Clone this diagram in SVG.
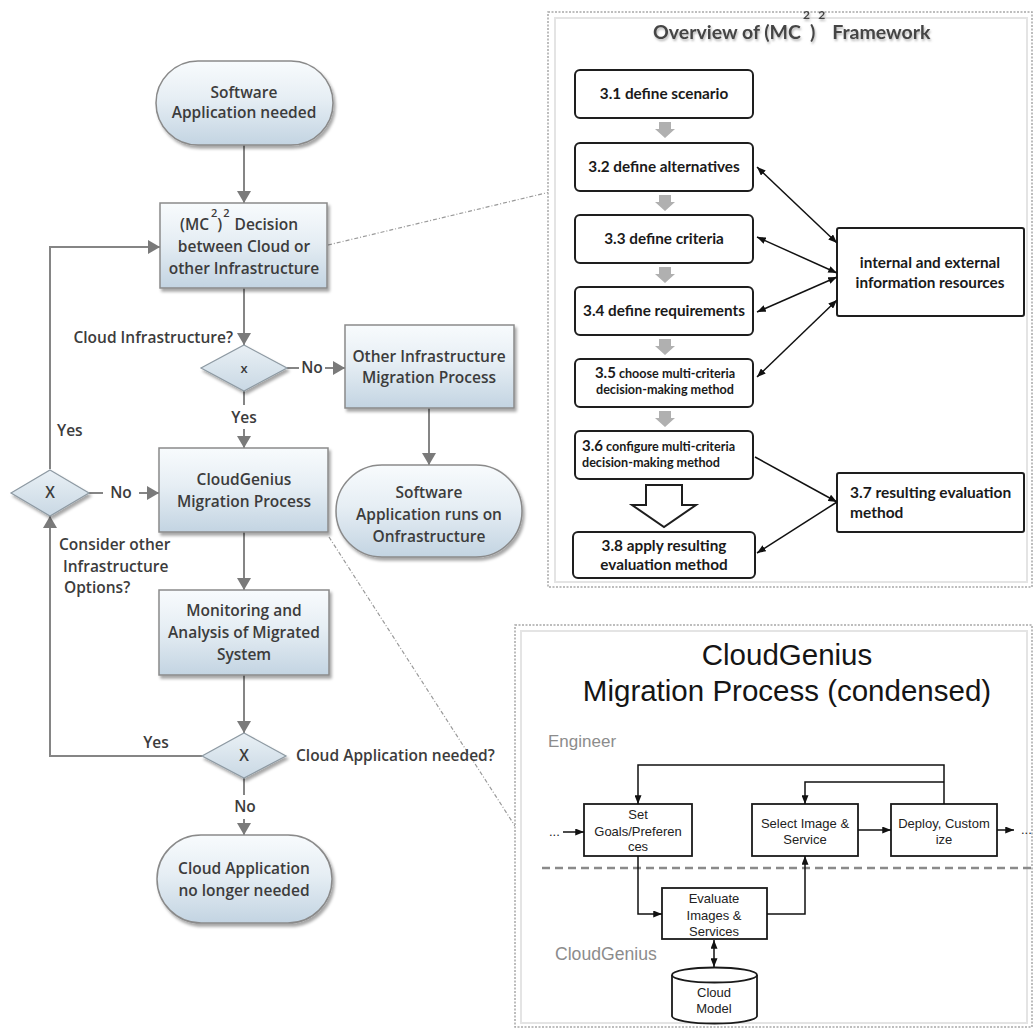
<svg xmlns="http://www.w3.org/2000/svg" width="1035" height="1028" viewBox="0 0 1035 1028">
  <defs>
    <linearGradient id="nodeFill" x1="0" y1="0" x2="0" y2="1">
      <stop offset="0" stop-color="#f8fbfd"/>
      <stop offset="0.45" stop-color="#e6eef4"/>
      <stop offset="1" stop-color="#c3d4e2"/>
    </linearGradient>
    <linearGradient id="diamondFill" x1="0" y1="0" x2="0" y2="1">
      <stop offset="0" stop-color="#e9f0f5"/>
      <stop offset="1" stop-color="#c9d8e4"/>
    </linearGradient>
    <filter id="shadow" x="-10%" y="-10%" width="125%" height="130%">
      <feDropShadow dx="2" dy="3" stdDeviation="1.6" flood-color="#000" flood-opacity="0.35"/>
    </filter>
    <filter id="textShadow" x="-5%" y="-30%" width="110%" height="170%">
      <feDropShadow dx="1" dy="2" stdDeviation="1.2" flood-color="#888" flood-opacity="0.6"/>
    </filter>
    <marker id="gArrow" viewBox="0 0 12 14" refX="12" refY="7" markerWidth="12" markerHeight="14" markerUnits="userSpaceOnUse" orient="auto">
      <path d="M0,0 L12,7 L0,14 Z" fill="#7a7a7a"/>
    </marker>
    <marker id="bArrow" viewBox="0 0 10 8" refX="10" refY="4" markerWidth="9" markerHeight="7" markerUnits="userSpaceOnUse" orient="auto-start-reverse">
      <path d="M0,0 L10,4 L0,8 Z" fill="#111"/>
    </marker>
    <path id="stepArrow" d="M-6,0 H6 V7 H10 L0,16 L-10,7 H-6 Z" fill="#b0b0b0"/>
    <style>
      .node { fill: url(#nodeFill); stroke: #8a8a8a; stroke-width: 1.5; filter: url(#shadow); }
      .dia { fill: url(#diamondFill); stroke: #8e9aa3; stroke-width: 1.2; filter: url(#shadow); }
      .flow { fill: none; stroke: #858585; stroke-width: 2; }
      .flowA { fill: none; stroke: #858585; stroke-width: 2; marker-end: url(#gArrow); }
      .lt { font-family: "Open Sans", "DejaVu Sans", sans-serif; font-weight: 600; font-size: 15.5px; fill: #3c3c3c; }
      .ltc { text-anchor: middle; }
      .sup { font-size: 11px; }
      .zoom { fill: none; stroke: #9a9a9a; stroke-width: 1.2; stroke-dasharray: 4 2 1 2; }
      .panel { fill: #fff; stroke: #a8a8a8; stroke-width: 1.5; stroke-dasharray: 2 1.5; }
      .panelIn { fill: none; stroke: #e4e4e4; stroke-width: 2; }
      .step { fill: #fff; stroke: #1e1e1e; stroke-width: 2; }
      .rt { font-family: Lato, "Open Sans", sans-serif; font-weight: 700; font-size: 15.3px; fill: #1a1a1a; }
      .rts { font-size: 12.6px; }
      .rc { text-anchor: middle; }
      .bl { fill: none; stroke: #111; stroke-width: 1.5; }
      .blA { fill: none; stroke: #111; stroke-width: 1.5; marker-end: url(#bArrow); }
      .blAA { fill: none; stroke: #111; stroke-width: 1.5; marker-end: url(#bArrow); marker-start: url(#bArrow); }
      .cg { fill: #fff; stroke: #1a1a1a; stroke-width: 1.8; }
      .ct { font-family: "Liberation Sans", Arial, sans-serif; font-size: 13px; fill: #222; text-anchor: middle; }
      .lane { font-family: "Liberation Sans", Arial, sans-serif; fill: #8c8c8c; }
    </style>
  </defs>

  <rect width="1035" height="1028" fill="#fff"/>

  <!-- magnification guides from the left flow to the detail panels -->
  <g id="guides">
    <path class="zoom" d="M328,245 L550,192"/>
    <path class="zoom" d="M329,537 L515,826"/>
  </g>

  <!-- ===== Detail panel: framework overview ===== -->
  <g id="overview-panel">
    <rect class="panel" x="548" y="12" width="484" height="575"/>
    <rect class="panelIn" x="555" y="18" width="472" height="564"/>
    <text class="rt" x="653" y="39" filter="url(#textShadow)" style="font-size:19.5px;fill:#454545">Overview of (MC<tspan dx="2" dy="-20" style="font-size:12px">2</tspan><tspan dy="20">)</tspan><tspan dx="3" dy="-20" style="font-size:12px">2</tspan><tspan dx="7" dy="20">Framework</tspan></text>
  </g>

  <g id="step-3-1"><rect class="step" x="575" y="70" width="178" height="48" rx="5"/><text class="rt rc" x="664" y="99">3.1 define scenario</text></g>
  <g id="step-3-2"><rect class="step" x="575" y="143" width="178" height="48" rx="5"/><text class="rt rc" x="664" y="172">3.2 define alternatives</text></g>
  <g id="step-3-3"><rect class="step" x="575" y="215" width="178" height="48" rx="5"/><text class="rt rc" x="664" y="244">3.3 define criteria</text></g>
  <g id="step-3-4"><rect class="step" x="575" y="287" width="178" height="48" rx="5"/><text class="rt rc" x="664" y="316">3.4 define requirements</text></g>
  <g id="step-3-5"><rect class="step" x="575" y="359" width="178" height="48" rx="5"/>
    <text class="rt rc rts" x="665" y="378"><tspan style="font-size:15px">3.5</tspan> choose multi-criteria</text>
    <text class="rt rc rts" x="665" y="394">decision-making method</text></g>
  <g id="step-3-6"><rect class="step" x="575" y="431" width="178" height="48" rx="5"/>
    <text class="rt rts" x="582" y="451"><tspan style="font-size:15px">3.6</tspan> configure multi-criteria</text>
    <text class="rt rts" x="582" y="467">decision-making method</text></g>
  <g id="step-3-8"><rect class="step" x="573" y="532" width="182" height="46" rx="5"/>
    <text class="rt rc" x="664" y="551">3.8 apply resulting</text>
    <text class="rt rc" x="664" y="570">evaluation method</text></g>
  <g id="info-resources"><rect class="step" x="837" y="228" width="187" height="88" rx="2"/>
    <text class="rt rc" x="930" y="268">internal and external</text>
    <text class="rt rc" x="930" y="288">information resources</text></g>
  <g id="step-3-7"><rect class="step" x="837" y="473" width="187" height="59" rx="2"/>
    <text class="rt" x="850" y="498" style="font-size:15.5px">3.7 resulting evaluation</text>
    <text class="rt" x="850" y="518" style="font-size:15.5px">method</text></g>

  <g id="overview-connectors">
    <use href="#stepArrow" x="665" y="122"/>
    <use href="#stepArrow" x="665" y="195"/>
    <use href="#stepArrow" x="665" y="267"/>
    <use href="#stepArrow" x="665" y="339"/>
    <use href="#stepArrow" x="665" y="411"/>
    <path d="M646,485 H682 V505 H696 L664,527 L632,505 H646 Z" fill="#fff" stroke="#1e1e1e" stroke-width="2"/>
    <path class="blAA" d="M757,167 L837,243"/>
    <path class="blAA" d="M757,237 L837,273"/>
    <path class="blAA" d="M757,312 L837,277"/>
    <path class="blAA" d="M757,377 L837,300"/>
    <path class="blA" d="M755,457 L837,502"/>
    <path class="blA" d="M837,502 L757,553"/>
  </g>

  <!-- ===== Detail panel: condensed migration process ===== -->
  <g id="process-panel">
    <rect class="panel" x="515" y="625" width="517" height="402"/>
    <rect class="panelIn" x="521" y="631" width="506" height="392"/>
    <text x="787" y="665" text-anchor="middle" font-family="'Liberation Sans', Arial, sans-serif" font-size="29.5" fill="#151515">CloudGenius</text>
    <text x="787" y="701" text-anchor="middle" font-family="'Liberation Sans', Arial, sans-serif" font-size="29.5" fill="#151515">Migration Process (condensed)</text>
    <text class="lane" x="548" y="747" font-size="17">Engineer</text>
    <text class="lane" x="555" y="960" font-size="17.6">CloudGenius</text>
    <line x1="542" y1="868" x2="1032" y2="868" stroke="#8a8a8a" stroke-width="2.5" stroke-dasharray="8 5"/>
  </g>

  <g id="set-goals"><rect class="cg" x="584" y="804" width="108" height="52"/>
    <text class="ct" x="638" y="819">Set</text><text class="ct" x="638" y="836">Goals/Preferen</text><text class="ct" x="638" y="851">ces</text></g>
  <g id="select-image"><rect class="cg" x="752" y="804" width="106" height="52"/>
    <text class="ct" x="805" y="828">Select Image &amp;</text><text class="ct" x="805" y="844">Service</text></g>
  <g id="deploy"><rect class="cg" x="891" y="804" width="106" height="52"/>
    <text class="ct" x="944" y="828">Deploy, Custom</text><text class="ct" x="944" y="844">ize</text></g>
  <g id="evaluate"><rect class="cg" x="662" y="888" width="105" height="51"/>
    <text class="ct" x="714" y="903">Evaluate</text><text class="ct" x="714" y="920">Images &amp;</text><text class="ct" x="714" y="936">Services</text></g>
  <g id="cloud-model">
    <path class="cg" d="M672,975 V1016 A42.5,7.5 0 0 0 757,1016 V975"/>
    <ellipse class="cg" cx="714.5" cy="975" rx="42.5" ry="7.5"/>
    <text class="ct" x="714" y="997">Cloud</text><text class="ct" x="714" y="1013">Model</text></g>

  <g id="process-connectors">
    <text class="ct" x="549" y="836" style="text-anchor:start">...</text>
    <path class="blA" d="M563,832 H584"/>
    <path class="blA" d="M858,830 H891"/>
    <path class="blA" d="M997,830 H1014"/>
    <text class="ct" x="1021" y="834" style="text-anchor:start">...</text>
    <path class="blA" d="M944,804 V765 H638 V804"/>
    <path class="blA" d="M944,782 H805 V804"/>
    <path class="blA" d="M638,856 V914 H662"/>
    <path class="blA" d="M767,914 H805 V856"/>
    <path class="blAA" d="M714,940 V967"/>
  </g>

  <!-- ===== Main decision flow ===== -->
  <g id="flow-connectors">
    <path class="flowA" d="M244,145 V203"/>
    <path class="flowA" d="M244,288 V345"/>
    <path class="flow" d="M287,368 H299"/>
    <path class="flowA" d="M325,368 H345"/>
    <path class="flow" d="M244,391 V405"/>
    <path class="flowA" d="M244,429 V448"/>
    <path class="flowA" d="M429,408 V465"/>
    <path class="flow" d="M89,493 H103"/>
    <path class="flowA" d="M139,493 H159"/>
    <path class="flowA" d="M50,469 V247 H160"/>
    <path class="flowA" d="M202,756 H50 V516"/>
    <path class="flowA" d="M244,532 V590"/>
    <path class="flowA" d="M244,675 V733"/>
    <path class="flow" d="M244,778 V795"/>
    <path class="flowA" d="M244,819 V835"/>
    <text class="lt" x="233" y="343" text-anchor="end">Cloud Infrastructure?</text>
    <text class="lt ltc" x="312" y="373">No</text>
    <text class="lt ltc" x="244" y="423">Yes</text>
    <text class="lt ltc" x="121" y="498">No</text>
    <text class="lt" x="57" y="436">Yes</text>
    <text class="lt" x="59" y="550">Consider other</text>
    <text class="lt" x="63" y="572">Infrastructure</text>
    <text class="lt" x="64" y="593">Options?</text>
    <text class="lt ltc" x="156" y="748">Yes</text>
    <text class="lt" x="296" y="761">Cloud Application needed?</text>
    <text class="lt ltc" x="245" y="812">No</text>
  </g>

  <g id="software-needed">
    <rect class="node" x="156" y="61" width="177" height="84" rx="42"/>
    <text class="lt ltc" x="244" y="98">Software</text>
    <text class="lt ltc" x="244" y="118">Application needed</text>
  </g>
  <g id="mc2-decision">
    <rect class="node" x="160" y="203" width="167" height="85"/>
    <text class="lt" x="180" y="230">(MC<tspan class="sup" dx="2" dy="-13">2</tspan><tspan dy="13">)</tspan><tspan class="sup" dx="1" dy="-13">2</tspan><tspan dx="5" dy="13">Decision</tspan></text>
    <text class="lt ltc" x="244" y="252">between Cloud or</text>
    <text class="lt ltc" x="244" y="274">other Infrastructure</text>
  </g>
  <g id="cloud-infra-gate">
    <path class="dia" d="M244,345 L287,368 L244,391 L201,368 Z"/>
    <text class="lt ltc" x="244" y="373" style="font-size:13px">x</text>
  </g>
  <g id="other-migration">
    <rect class="node" x="345" y="325" width="169" height="83"/>
    <text class="lt ltc" x="429" y="362">Other Infrastructure</text>
    <text class="lt ltc" x="429" y="383">Migration Process</text>
  </g>
  <g id="runs-on-infra">
    <rect class="node" x="336" y="465" width="186" height="92" rx="46"/>
    <text class="lt ltc" x="429" y="498">Software</text>
    <text class="lt ltc" x="429" y="520">Application runs on</text>
    <text class="lt ltc" x="429" y="542">Onfrastructure</text>
  </g>
  <g id="cloudgenius-migration">
    <rect class="node" x="159" y="448" width="169" height="84"/>
    <text class="lt ltc" x="244" y="485">CloudGenius</text>
    <text class="lt ltc" x="244" y="507">Migration Process</text>
  </g>
  <g id="other-options-gate">
    <path class="dia" d="M50,470 L89,493 L50,516 L11,493 Z"/>
    <text class="lt ltc" x="50" y="498">X</text>
  </g>
  <g id="monitoring">
    <rect class="node" x="159" y="590" width="170" height="85"/>
    <text class="lt ltc" x="244" y="616">Monitoring and</text>
    <text class="lt ltc" x="244" y="638">Analysis of Migrated</text>
    <text class="lt ltc" x="244" y="660">System</text>
  </g>
  <g id="still-needed-gate">
    <path class="dia" d="M244,733 L286,756 L244,778 L202,756 Z"/>
    <text class="lt ltc" x="244" y="761">X</text>
  </g>
  <g id="no-longer-needed">
    <rect class="node" x="157" y="835" width="175" height="88" rx="44"/>
    <text class="lt ltc" x="244" y="874">Cloud Application</text>
    <text class="lt ltc" x="244" y="896">no longer needed</text>
  </g>
</svg>
